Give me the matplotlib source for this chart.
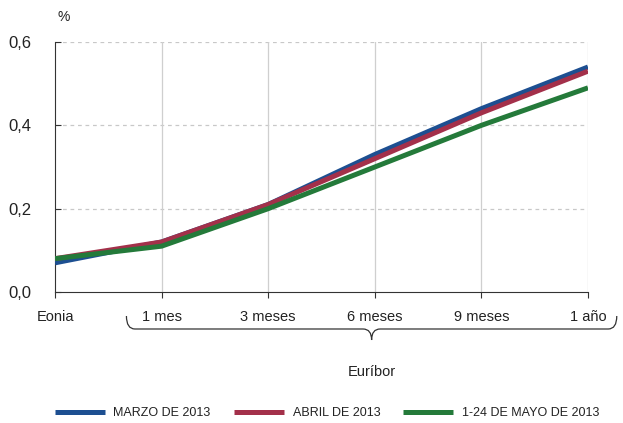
import matplotlib
matplotlib.use("Agg")
import matplotlib.pyplot as plt
from matplotlib.path import Path
from matplotlib.patches import PathPatch
import matplotlib.transforms as mtransforms

plazos = ["Eonia", "1 mes", "3 meses", "6 meses", "9 meses", "1 año"]
marzo = [0.07, 0.12, 0.21, 0.33, 0.44, 0.54]
abril = [0.08, 0.12, 0.21, 0.32, 0.43, 0.53]
mayo = [0.08, 0.11, 0.20, 0.30, 0.40, 0.49]
series_labels = ["MARZO DE 2013", "ABRIL DE 2013", "1-24 DE MAYO DE 2013"]
colores = ["#1d4f91", "#a3304a", "#247a3a"]
yticks = [0.0, 0.2, 0.4, 0.6]

plt.rcParams['font.family'] = ['Liberation Sans', 'DejaVu Sans']
txt = "#222222"

fig = plt.figure(figsize=(6.23, 4.23), dpi=100)
ax = fig.add_axes([0.0883, 0.3097, 0.8555, 0.591])

x = list(range(len(plazos)))
for datos, lab, col in zip([marzo, abril, mayo], series_labels, colores):
    ax.plot(x, datos, color=col, lw=3.6, label=lab, solid_capstyle='butt', zorder=3)

ax.set_xlim(0, len(plazos) - 1)
ax.set_ylim(0, 0.6)
ax.set_yticks(yticks)
ax.set_yticklabels([f"{v:.1f}".replace(".", ",") for v in yticks], fontsize=12, color=txt)
ax.set_xticks(x)
ax.set_xticklabels(plazos, fontsize=10.5, color=txt)

for v in yticks[1:]:
    ax.axhline(v, color="#c8c8c8", lw=0.9, ls=(0, (3, 3)), zorder=1)
for xi in x[1:]:
    ax.axvline(xi, color="#cfcfcf", lw=0.9, zorder=1)

for s in ["top", "right"]:
    ax.spines[s].set_visible(False)
ax.spines["left"].set_color("#333333")
ax.spines["bottom"].set_color("#333333")
ax.tick_params(axis="y", direction="in", length=4, color="#333333", pad=17)
ax.tick_params(axis="x", direction="out", length=4, color="#333333", pad=9)

ax.text(0.005, 1.085, "%", transform=ax.transAxes, fontsize=10, color=txt)

# llave bajo los plazos del Euríbor
tr = mtransforms.blended_transform_factory(ax.transData, ax.transAxes)
xl, xc, xr = 0.67, 2.97, 5.27
y0, y1, y2 = -0.096, -0.148, -0.192
dx = 0.08
verts = [(xl, y0), (xl, y1), (xl + dx, y1),
         (xc - dx, y1),
         (xc, y1), (xc, y2),
         (xc, y1), (xc + dx, y1),
         (xr - dx, y1),
         (xr, y1), (xr, y0)]
codes = [Path.MOVETO, Path.CURVE3, Path.CURVE3,
         Path.LINETO,
         Path.CURVE3, Path.CURVE3,
         Path.CURVE3, Path.CURVE3,
         Path.LINETO,
         Path.CURVE3, Path.CURVE3]
brace = PathPatch(Path(verts, codes), transform=tr, fill=False, lw=0.9,
                  edgecolor="#333333", clip_on=False)
ax.add_patch(brace)
ax.text(xc, -0.32, "Euríbor", transform=tr, ha="center", va="center", fontsize=10.5, color=txt)

leg = fig.legend(loc="lower center", bbox_to_anchor=(0.525, -0.018), ncol=3, frameon=False,
                 handlelength=4.0, columnspacing=1.85, handletextpad=0.7,
                 prop={'size': 9})
for t in leg.get_texts():
    t.set_color(txt)

fig.savefig("out.png", dpi=100)
